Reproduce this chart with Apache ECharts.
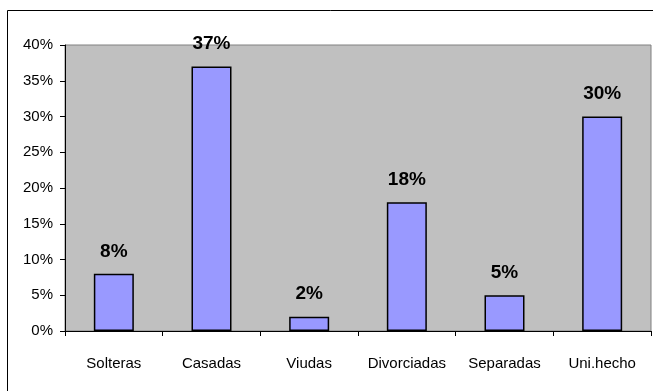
<!DOCTYPE html>
<html>
<head>
<meta charset="utf-8">
<script src="https://cdn.jsdelivr.net/npm/echarts@6/dist/echarts.min.js"></script>
<style>
html,body{margin:0;padding:0;background:#fff;}
#c{width:653px;height:391px;}
</style>
</head>
<body>
<div id="c"></div>
<script>
var categories = ['Solteras', 'Casadas', 'Viudas', 'Divorciadas', 'Separadas', 'Uni.hecho'];
var values = [8, 37, 2, 18, 5, 30];
var yTicks = [0, 5, 10, 15, 20, 25, 30, 35, 40];

var FONT = '"Liberation Sans", Arial, sans-serif';
var chart = echarts.init(document.getElementById('c'));
chart.setOption({
  animation: false,
  backgroundColor: '#fff',
  graphic: [{
    type: 'rect',
    shape: { x: 7.5, y: 10.5, width: 700, height: 400 },
    style: { fill: 'none', stroke: '#000', lineWidth: 1 },
    silent: true
  }],
  grid: {
    left: 65, top: 45, right: 2, bottom: 60,
    show: true, backgroundColor: '#C0C0C0', borderColor: '#808080', borderWidth: 1
  },
  xAxis: {
    type: 'category',
    data: categories,
    boundaryGap: true,
    axisLine: { lineStyle: { color: '#000', width: 1 } },
    axisTick: { show: true, inside: false, length: 5, alignWithLabel: false, lineStyle: { color: '#000' } },
    axisLabel: { color: '#000', fontFamily: FONT, fontSize: 15, margin: 25, interval: 0 },
    splitLine: { show: false }
  },
  yAxis: {
    type: 'value',
    min: 0, max: 40, interval: 5,
    axisLine: { show: true, lineStyle: { color: '#000', width: 1 } },
    axisTick: { show: true, inside: false, length: 5, lineStyle: { color: '#000' } },
    axisLabel: { color: '#000', fontFamily: FONT, fontSize: 15, margin: 12,
      formatter: function (v) { return v + '%'; } },
    splitLine: { show: false }
  },
  series: [{
    type: 'bar',
    data: values,
    barWidth: 40,
    itemStyle: { color: '#9999FF', borderColor: '#000', borderWidth: 1.5 },
    label: {
      show: true, position: 'top', distance: 13,
      color: '#000', fontFamily: FONT, fontWeight: 'bold', fontSize: 19,
      formatter: function (p) { return p.value + '%'; }
    }
  }]
});
</script>
</body>
</html>
